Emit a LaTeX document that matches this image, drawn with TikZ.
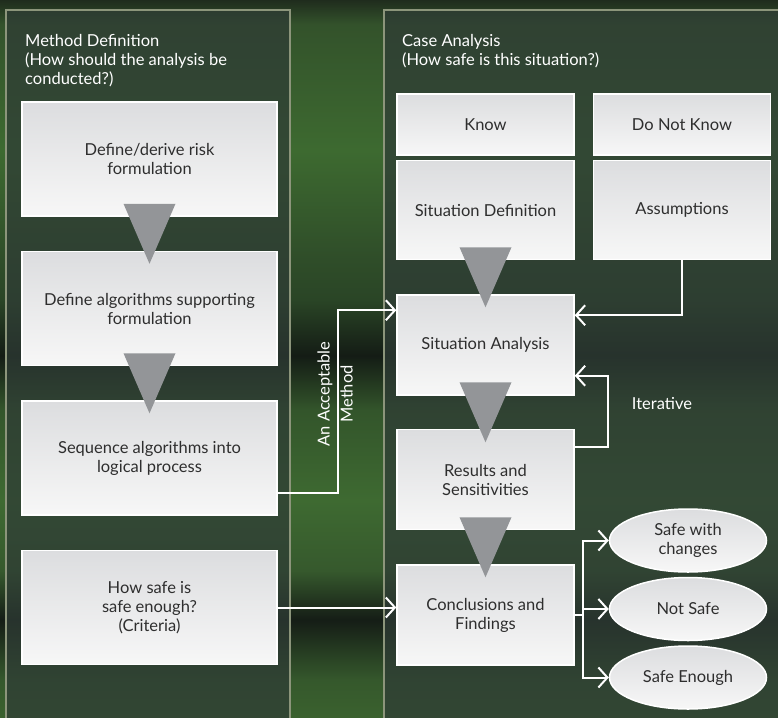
\documentclass[tikz,border=0pt]{standalone}
\usepackage{fontspec}
\setmainfont{Lato}
\usetikzlibrary{shapes.geometric, arrows.meta, positioning, calc}

\definecolor{panelfill}{HTML}{2F3C36}
\definecolor{panelline}{HTML}{8C957B}
\definecolor{boxtop}{HTML}{DCDDDF}
\definecolor{boxbot}{HTML}{F7F7F7}
\definecolor{boxtext}{HTML}{2E2E2E}
\definecolor{trigray}{HTML}{939598}
% background streaks, top to bottom
\definecolor{bgya}{HTML}{1F2C1D}
\definecolor{bgyb}{HTML}{33522B}
\definecolor{bgyc}{HTML}{3D6A30}
\definecolor{bgyd}{HTML}{2F4D29}
\definecolor{bgye}{HTML}{2A4526}
\definecolor{bgyf}{HTML}{141C15}
\definecolor{bgyg}{HTML}{33552B}
\definecolor{bgyh}{HTML}{3E6A31}
\definecolor{bgyi}{HTML}{36592D}
\definecolor{bgyj}{HTML}{151D16}
\definecolor{bgyk}{HTML}{35582C}
\definecolor{bgyl}{HTML}{3A612E}
\pgfdeclareverticalshading{bgshade}{100bp}{color(0bp)=(bgyl); color(25bp)=(bgyl);
  color(27.6bp)=(bgyk); color(31.8bp)=(bgyj); color(35.2bp)=(bgyi); color(40.1bp)=(bgyh);
  color(46.4bp)=(bgyg); color(50.2bp)=(bgyf); color(54.1bp)=(bgye); color(56.9bp)=(bgyd);
  color(64.5bp)=(bgyc); color(73.3bp)=(bgyb); color(75bp)=(bgya); color(100bp)=(bgya)}

\begin{document}
\begin{tikzpicture}[
    x=1pt, y=-1pt,
    font=\fontsize{16.5}{19}\selectfont,
    node distance=34pt,
    box/.style={rectangle, draw=white, line width=1.5pt, top color=boxtop, bottom color=boxbot, text=boxtext, align=center, minimum width=255pt, minimum height=114pt},
    casebox/.style={box, minimum width=177pt, minimum height=100pt},
    outcome/.style={ellipse, draw=white, line width=1.5pt, top color=boxtop, bottom color=boxbot, text=boxtext, align=center, minimum width=157pt, minimum height=63pt, inner sep=0pt},
    panel/.style={draw=panelline, line width=2pt, fill=panelfill, fill opacity=0.72},
    heading/.style={text=white, align=left, inner sep=0pt},
    tri/.style={fill=trigray},
    arrow/.style={-{Straight Barb[length=9pt,width=20pt]}, white, line width=2pt}
]
    % Background
    \useasboundingbox (0,0) rectangle (778,717);
    \clip (0,0) rectangle (778,717);
    \shade[shading=bgshade] (0,0) rectangle (778,717);

    % Panels
    \draw[panel] (6,10) rectangle (290,740);
    \draw[panel] (384,10) rectangle (800,740);
    \node[heading, anchor=north west] (methodtitle) at (25,34) {Method Definition\\(How should the analysis be\\conducted?)};
    \node[heading, anchor=north west] (casetitle) at (402,34) {Case Analysis\\(How safe is this situation?)};

    % Method Definition
    \node[box] (derive) at (149.5,159) {Define/derive risk\\formulation};
    \node[box, below=of derive] (algos) {Define algorithms supporting\\formulation};
    \node[box, below=of algos] (sequence) {Sequence algorithms into\\logical process};
    \node[box, below=of sequence] (criteria) {How safe is\\safe enough?\\(Criteria)};

    % Case Analysis
    \node[casebox, minimum height=61pt] (know) at (485.5,124.5) {Know};
    \node[casebox, minimum height=61pt, right=18pt of know] (unknown) {Do Not Know};
    \node[casebox, minimum height=99pt, below=4pt of know] (sitdef) {Situation Definition};
    \node[casebox, minimum height=99pt, below=4pt of unknown] (assume) {Assumptions};
    \node[casebox, below=of sitdef] (sitan) {Situation Analysis};
    \node[casebox, below=33pt of sitan] (results) {Results and\\Sensitivities};
    \node[casebox, below=of results] (concl) {Conclusions and\\Findings};

    % Outcomes
    \node[outcome] (notsafe) at (688,609) {Not Safe};
    \node[outcome, above=4pt of notsafe] (safechg) {Safe with\\changes};
    \node[outcome, below=4pt of notsafe] (enough) {Safe Enough};

    % Flow triangles
    \foreach \upper/\lower in {derive/algos, algos/sequence, sitdef/sitan, sitan/results, results/concl}
        \fill[tri] ($(\upper.south)!0.5!(\lower.north)$) ++(-26,-30) -- ++(52,0) -- ++(-26,60) -- cycle;

    % Labels
    \node[heading, rotate=90, align=center] (accept) at (335,394) {An Acceptable\\[4pt]Method};
    \node[heading] (iter) at (662,404) {Iterative};

    % Arrows
    \draw[arrow] ([yshift=23pt]sequence.south east) -- ++(60,0) |- ([yshift=-16pt]sitan.north west);
    \draw[arrow] (criteria.east) -- (criteria.east -| concl.west);
    \draw[arrow] (assume.south) |- ([yshift=-21pt]sitan.north east);
    \draw[arrow] ([yshift=-18pt]results.north east) -- ++(33,0) |- ([yshift=20pt]sitan.south east);
    \foreach \out in {safechg, notsafe, enough}
        \draw[arrow] (concl.east) -- ++(8,0) |- (\out.west);
\end{tikzpicture}
\end{document}
